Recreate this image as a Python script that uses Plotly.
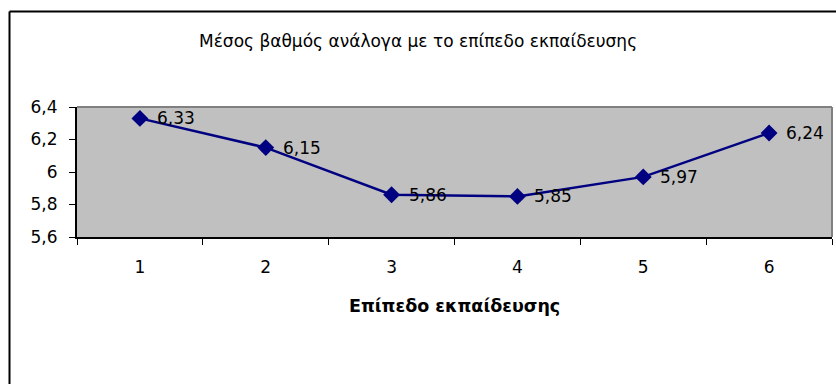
import plotly.graph_objects as go

categories = ["1", "2", "3", "4", "5", "6"]
values = [6.33, 6.15, 5.86, 5.85, 5.97, 6.24]
value_labels = ["6,33", "6,15", "5,86", "5,85", "5,97", "6,24"]
y_ticks = [5.6, 5.8, 6.0, 6.2, 6.4]
y_tick_labels = ["5,6", "5,8", "6", "6,2", "6,4"]
title_text = "Μέσος βαθμός ανάλογα με το επίπεδο εκπαίδευσης"
x_title = "Επίπεδο εκπαίδευσης"

FONT = "DejaVu Sans, sans-serif"
FS = 17
W, H = 836, 384
# plot area in window pixels: x 77..832, y 107..237
L = 77
T = 107
R = W - 832
B = H - 237
pw, ph = W - L - R, H - T - B

def px_x(px):
    return (px - L) / pw

def px_y(py):
    return (H - B - py) / ph

fig = go.Figure()
fig.add_trace(go.Scatter(
    x=categories, y=values, mode="lines+markers",
    line=dict(color="#000080", width=2.5),
    marker=dict(symbol="diamond", size=13, color="#000080"),
    cliponaxis=False, hoverinfo="skip",
))

for i, (v, t) in enumerate(zip(values, value_labels)):
    fig.add_annotation(x=i, y=v, text=t, showarrow=False, xanchor="left",
                       yanchor="middle", xshift=15,
                       font=dict(family=FONT, size=FS, color="black"))

fig.add_annotation(xref="paper", yref="paper", x=px_x(418), y=px_y(41),
                   text=title_text, showarrow=False, xanchor="center",
                   yanchor="middle", font=dict(family=FONT, size=FS, color="black"))
fig.add_annotation(xref="paper", yref="paper", x=0.5, y=px_y(306),
                   text="<b>" + x_title + "</b>", showarrow=False, xanchor="center",
                   yanchor="middle", font=dict(family=FONT, size=FS + 0.5, color="black"))

# outer chart border (top and left)
fig.add_shape(type="line", xref="paper", yref="paper",
              x0=px_x(9.5), x1=px_x(845), y0=px_y(11.5), y1=px_y(11.5),
              line=dict(color="black", width=2))
fig.add_shape(type="line", xref="paper", yref="paper",
              x0=px_x(9.5), x1=px_x(9.5), y0=px_y(11.5), y1=px_y(395),
              line=dict(color="black", width=2))
# plot area border (top and right, gray)
fig.add_shape(type="line", xref="paper", yref="paper", x0=0, x1=1, y0=1, y1=1,
              line=dict(color="#808080", width=2), layer="above")
fig.add_shape(type="line", xref="paper", yref="paper", x0=1, x1=1, y0=0, y1=1,
              line=dict(color="#808080", width=2), layer="above")

fig.update_layout(
    width=W, height=H,
    margin=dict(l=L, r=R, t=T, b=B, pad=0),
    paper_bgcolor="white", plot_bgcolor="#C0C0C0",
    showlegend=False,
    font=dict(family=FONT, size=FS, color="black"),
    xaxis=dict(type="category", tickson="boundaries", ticks="outside", ticklen=6,
               tickcolor="black", showline=True, linecolor="black", linewidth=2,
               showgrid=False, zeroline=False, range=[-0.5, 5.5],
               ticklabelstandoff=14, tickfont=dict(family=FONT, size=FS)),
    yaxis=dict(range=[5.6, 6.4], tickvals=y_ticks, ticktext=y_tick_labels,
               ticks="outside", ticklen=6, tickcolor="black", showline=True,
               linecolor="black", linewidth=2, showgrid=False, zeroline=False,
               ticklabelstandoff=8, tickfont=dict(family=FONT, size=FS)),
)

fig.write_html("out.html", config={"displayModeBar": False},
               post_script="document.body.style.margin='0';document.body.style.overflow='hidden';")
